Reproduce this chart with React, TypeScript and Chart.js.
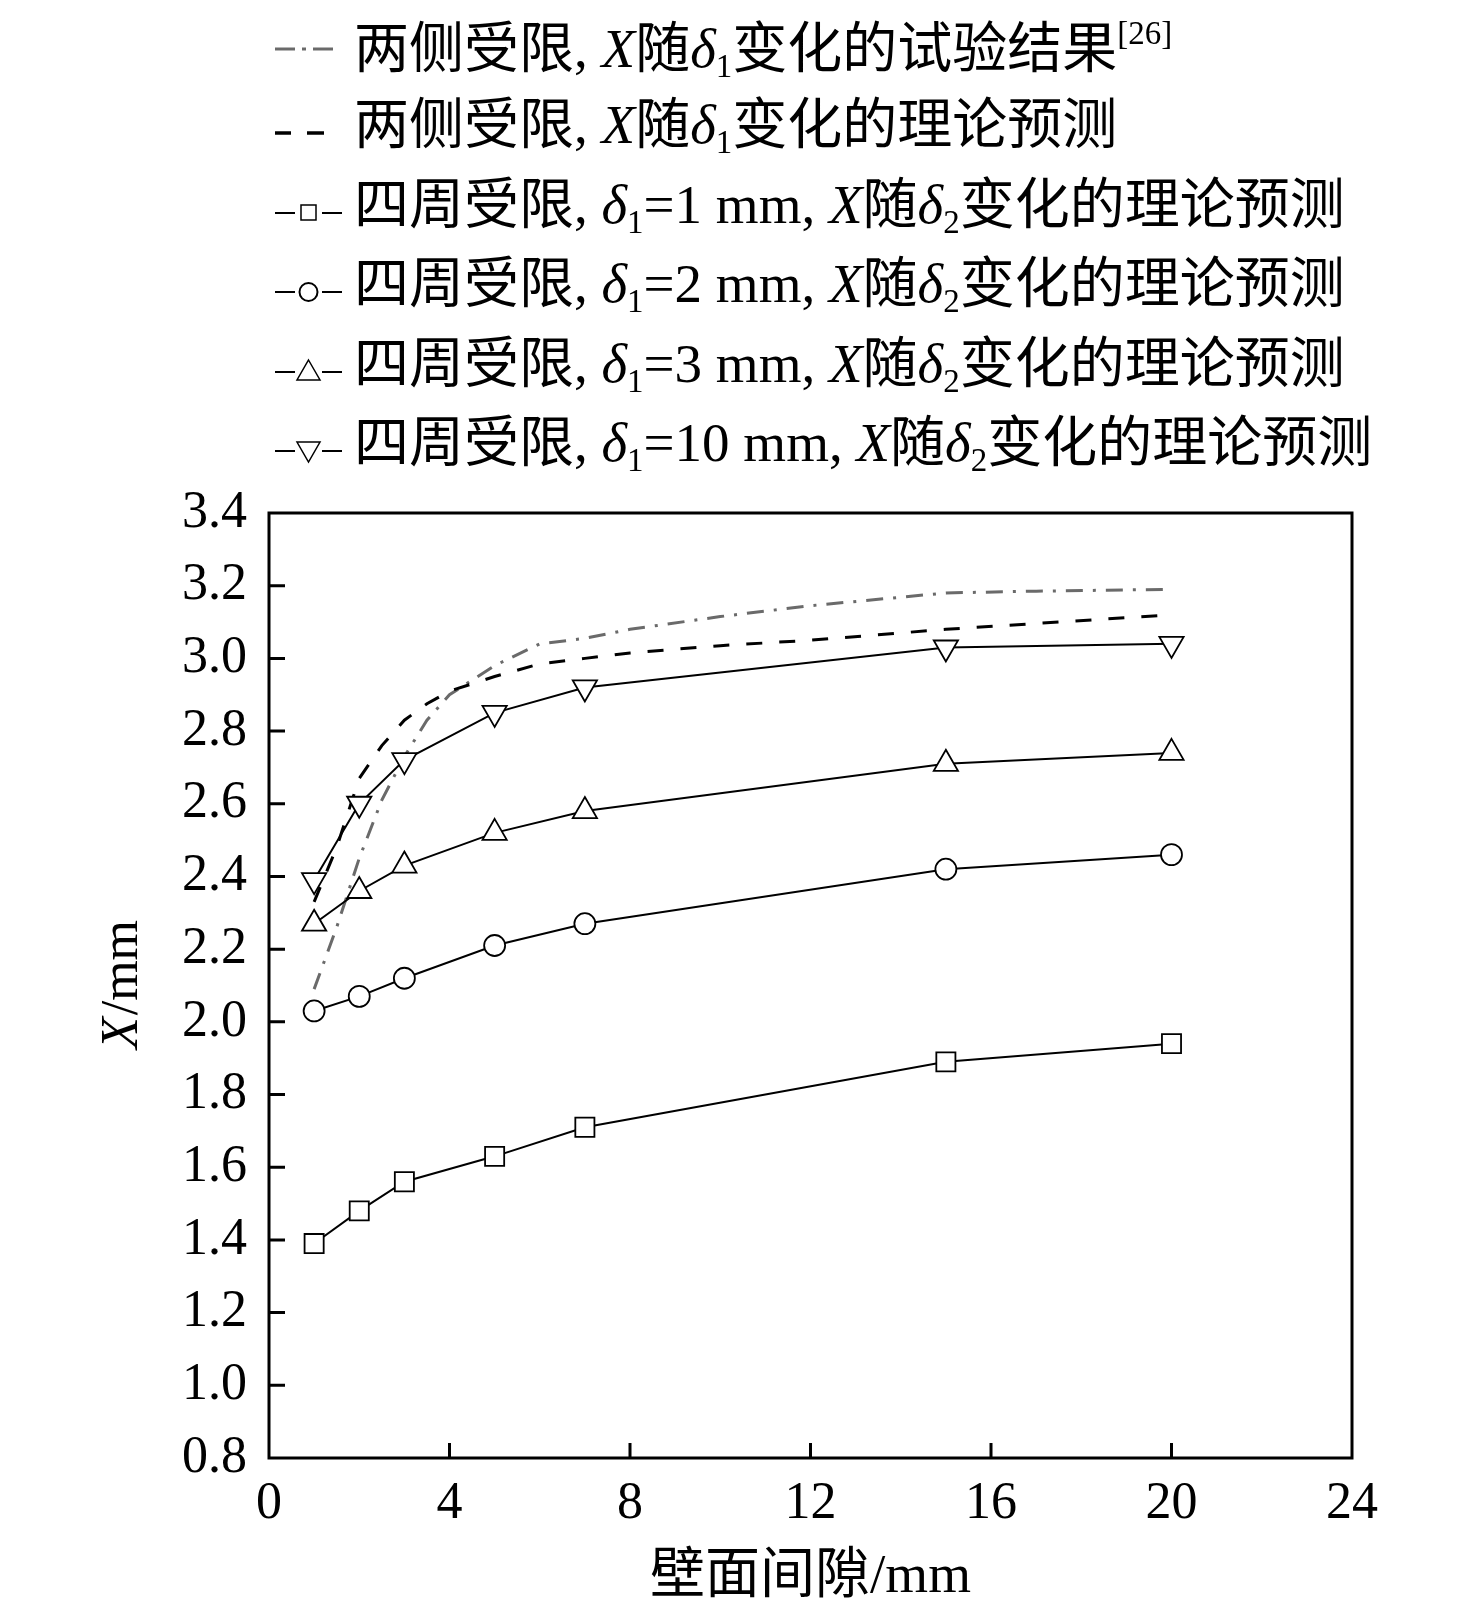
import { useEffect, useRef } from "react"
import { Chart, registerables } from "chart.js"

Chart.register(...registerables)

// gap values where the four-side series were computed (mm)
const gapX = [1, 2, 3, 5, 7, 15, 20]
const xDelta1 = [1.39, 1.48, 1.56, 1.63, 1.71, 1.89, 1.94]
const xDelta2 = [2.03, 2.07, 2.12, 2.21, 2.27, 2.42, 2.46]
const xDelta3 = [2.27, 2.36, 2.43, 2.52, 2.58, 2.71, 2.74]
const xDelta10 = [2.39, 2.6, 2.72, 2.85, 2.92, 3.03, 3.04]

// two-side confinement, test result [26]
const testGap = [1, 1.5, 2, 2.5, 3, 3.5, 4, 5, 6, 7, 8, 10, 12, 15, 17, 20]
const testX = [2.09, 2.26, 2.45, 2.61, 2.73, 2.83, 2.9, 2.98, 3.04, 3.055, 3.08, 3.115, 3.145, 3.18, 3.185, 3.19]

// two-side confinement, theory
const theoryGap = [1, 1.5, 2, 2.5, 3, 3.5, 4, 5, 6, 7, 8, 10, 12, 15, 20]
const theoryX = [2.33, 2.48, 2.67, 2.76, 2.83, 2.875, 2.91, 2.95, 2.985, 3.0, 3.015, 3.035, 3.05, 3.08, 3.12]

const xTicks = [0, 4, 8, 12, 16, 20, 24]
const yTicks = [0.8, 1.0, 1.2, 1.4, 1.6, 1.8, 2.0, 2.2, 2.4, 2.6, 2.8, 3.0, 3.2, 3.4]

const SERIF = '"Liberation Serif", "Times New Roman", "Noto Sans CJK SC", serif'
const GRAY = "#6a6a6a"

const pts = (xs: number[], ys: number[]) => xs.map((x, i) => ({ x, y: ys[i] }))

const framePlugin = {
  id: "frame",
  afterDraw(chart: any) {
    const { ctx, chartArea: a, scales } = chart
    ctx.save()
    ctx.strokeStyle = "#000"
    ctx.lineWidth = 3
    ctx.strokeRect(a.left, a.top, a.right - a.left, a.bottom - a.top)
    // inward tick marks
    ctx.beginPath()
    scales.y.ticks.forEach((t: any) => {
      const py = scales.y.getPixelForValue(t.value)
      if (py > a.top + 3 && py < a.bottom - 3) {
        ctx.moveTo(a.left, py)
        ctx.lineTo(a.left + 16, py)
      }
    })
    scales.x.ticks.forEach((t: any) => {
      const px = scales.x.getPixelForValue(t.value)
      if (px > a.left + 3 && px < a.right - 3) {
        ctx.moveTo(px, a.bottom)
        ctx.lineTo(px, a.bottom - 15)
      }
    })
    ctx.stroke()

    // axis titles
    ctx.fillStyle = "#000"
    ctx.textBaseline = "middle"
    ctx.textAlign = "center"
    ctx.font = `55px ${SERIF}`
    ctx.fillText("壁面间隙/mm", (a.left + a.right) / 2, a.bottom + 120)

    ctx.translate(123, (a.top + a.bottom) / 2)
    ctx.rotate(-Math.PI / 2)
    ctx.textAlign = "left"
    ctx.font = `italic 52px ${SERIF}`
    const w1 = ctx.measureText("X").width
    ctx.font = `52px ${SERIF}`
    const w2 = ctx.measureText("/mm").width
    const start = -(w1 + w2) / 2
    ctx.font = `italic 52px ${SERIF}`
    ctx.fillText("X", start, 0)
    ctx.font = `52px ${SERIF}`
    ctx.fillText("/mm", start + w1 + 2, 0)
    ctx.restore()
  },
}

function Sym({ kind }: { kind: string }) {
  return (
    <svg width="70" height="30" style={{ display: "block", flex: "none" }}>
      {kind === "test" && (
        <g stroke={GRAY} strokeWidth="3">
          <line x1="0" y1="15" x2="20" y2="15" />
          <line x1="27" y1="15" x2="31" y2="15" />
          <line x1="38" y1="15" x2="58" y2="15" />
        </g>
      )}
      {kind === "theory" && (
        <g stroke="#000" strokeWidth="3.5">
          <line x1="0" y1="15" x2="16" y2="15" />
          <line x1="32" y1="15" x2="49" y2="15" />
        </g>
      )}
      {kind !== "test" && kind !== "theory" && (
        <g stroke="#000" strokeWidth="2" fill="#fff">
          <line x1="0" y1="15" x2="20" y2="15" />
          <line x1="47" y1="15" x2="67" y2="15" />
          {kind === "rect" && <rect x="26" y="7" width="15" height="15" strokeWidth="1.5" />}
          {kind === "circle" && <circle cx="33.5" cy="15" r="9" strokeWidth="2" />}
          {kind === "up" && <polygon points="33.5,3 45,23 22,23" strokeWidth="1.5" />}
          {kind === "down" && <polygon points="22,6 45,6 33.5,26" strokeWidth="1.5" />}
        </g>
      )}
    </svg>
  )
}

const d = (n: string) => (
  <>
    <i>δ</i>
    <sub style={{ fontSize: "0.6em", verticalAlign: "-0.3em" }}>{n}</sub>
  </>
)

function Legend() {
  const rowTops = [49, 133, 213, 292, 372, 451]
  const rows = [
    {
      kind: "test",
      text: (
        <>
          两侧受限, <i>X</i>随{d("1")}变化的试验结果
          <sup style={{ fontSize: "0.6em", verticalAlign: "0.7em" }}>[26]</sup>
        </>
      ),
    },
    { kind: "theory", text: <>两侧受限, <i>X</i>随{d("1")}变化的理论预测</> },
    { kind: "rect", text: <>四周受限, {d("1")}=1 mm, <i>X</i>随{d("2")}变化的理论预测</> },
    { kind: "circle", text: <>四周受限, {d("1")}=2 mm, <i>X</i>随{d("2")}变化的理论预测</> },
    { kind: "up", text: <>四周受限, {d("1")}=3 mm, <i>X</i>随{d("2")}变化的理论预测</> },
    { kind: "down", text: <>四周受限, {d("1")}=10 mm, <i>X</i>随{d("2")}变化的理论预测</> },
  ]
  return (
    <>
      {rows.map((r, i) => (
        <div
          key={i}
          style={{
            position: "absolute",
            left: 275,
            top: rowTops[i] - 34,
            height: 68,
            display: "flex",
            alignItems: "center",
            whiteSpace: "nowrap",
          }}
        >
          <Sym kind={r.kind} />
          <span style={{ marginLeft: 9, fontFamily: SERIF, fontSize: 55, lineHeight: "68px", color: "#000" }}>
            {r.text}
          </span>
        </div>
      ))}
    </>
  )
}

export default function App() {
  const chartRef = useRef<HTMLCanvasElement>(null)
  const chartInstance = useRef<Chart | null>(null)

  useEffect(() => {
    document.body.style.margin = "0"
    if (!chartRef.current) return
    if (chartInstance.current) chartInstance.current.destroy()
    const ctx = chartRef.current.getContext("2d")
    if (!ctx) return

    const markerSet = (data: number[], style: string, radius: number, rotation = 0) => ({
      data: pts(gapX, data),
      borderColor: "#000",
      borderWidth: 2,
      pointStyle: style,
      pointRadius: radius,
      pointRotation: rotation,
      pointBorderWidth: 1.8,
      pointBorderColor: "#000",
      pointBackgroundColor: "#fff",
      backgroundColor: "#fff",
      fill: false,
      tension: 0,
    })

    chartInstance.current = new Chart(ctx, {
      type: "line",
      data: {
        datasets: [
          markerSet(xDelta1, "rect", 13.5),
          markerSet(xDelta2, "circle", 10.5),
          markerSet(xDelta3, "triangle", 14),
          markerSet(xDelta10, "triangle", 14, 180),
          {
            data: pts(theoryGap, theoryX),
            borderColor: "#000",
            borderWidth: 3,
            borderDash: [16, 17],
            pointRadius: 0,
            fill: false,
            tension: 0,
          },
          {
            data: pts(testGap, testX),
            borderColor: GRAY,
            borderWidth: 3,
            borderDash: [17, 10, 3, 10],
            pointRadius: 0,
            fill: false,
            tension: 0,
          },
        ] as any,
      },
      options: {
        animation: false,
        responsive: false,
        devicePixelRatio: 1,
        layout: { padding: { left: 0, top: 513, right: 124, bottom: 57 } },
        plugins: { legend: { display: false }, tooltip: { enabled: false } },
        scales: {
          x: {
            type: "linear",
            min: 0,
            max: 24,
            grid: { display: false, drawTicks: false },
            border: { display: false },
            afterFit: (s: any) => {
              s.height = 100
            },
            afterBuildTicks: (s: any) => {
              s.ticks = xTicks.map((v) => ({ value: v }))
            },
            ticks: {
              padding: 15,
              color: "#000",
              font: { family: SERIF, size: 52 },
              maxRotation: 0,
              callback: (v: any) => String(v),
            },
          },
          y: {
            type: "linear",
            min: 0.8,
            max: 3.4,
            grid: { display: false, drawTicks: false },
            border: { display: false },
            afterFit: (s: any) => {
              s.width = 269
            },
            afterBuildTicks: (s: any) => {
              s.ticks = yTicks.map((v) => ({ value: v }))
            },
            ticks: {
              padding: 22,
              color: "#000",
              font: { family: SERIF, size: 52 },
              callback: (v: any) => Number(v).toFixed(1),
            },
          },
        },
      },
      plugins: [framePlugin],
    })

    return () => {
      if (chartInstance.current) {
        chartInstance.current.destroy()
        chartInstance.current = null
      }
    }
  }, [])

  return (
    <div style={{ position: "relative", width: 1476, height: 1615 }}>
      <canvas ref={chartRef} width={1476} height={1615} style={{ display: "block" }} />
      <Legend />
    </div>
  )
}
